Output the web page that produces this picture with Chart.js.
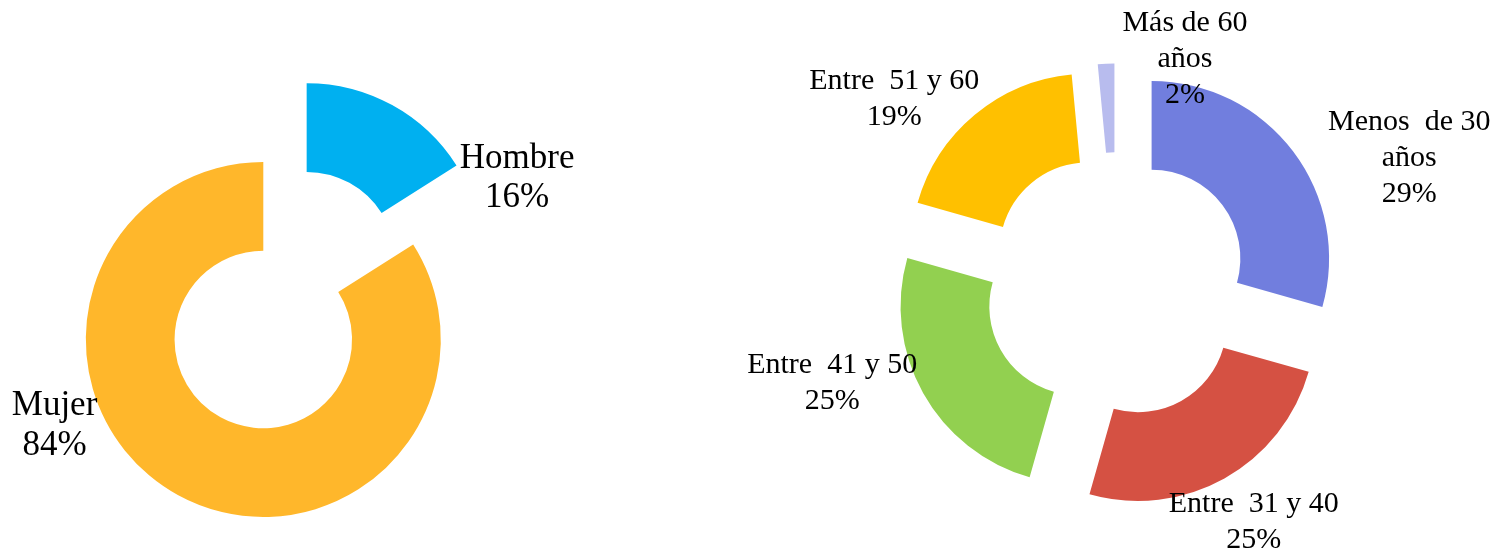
<!DOCTYPE html>
<html lang="es">
<head>
<meta charset="utf-8">
<title>Género y edad</title>
<script src="https://cdn.jsdelivr.net/npm/chart.js@4.4.1/dist/chart.umd.min.js"></script>
<style>
  html, body { margin: 0; padding: 0; background: #fff; }
  #wrap { position: relative; width: 1509px; height: 553px; overflow: hidden; }
  #wrap canvas { position: absolute; left: 0; top: 0; }
</style>
</head>
<body>
<div id="wrap">
  <canvas id="chart-genero" width="1509" height="553"></canvas>
  <canvas id="chart-edad" width="1509" height="553"></canvas>
</div>
<script>
// --- datos ---
const generoLabels = ['Hombre', 'Mujer'];
const generoValues = [16, 84];
const generoColors = ['#00B0F0', '#FFB72B'];

const edadLabels = ['Menos de 30 años', 'Entre 31 y 40', 'Entre 41 y 50', 'Entre 51 y 60', 'Más de 60 años'];
const edadValues = [29.4, 25, 25, 19.1, 1.5];
const edadColors = ['#717EDE', '#D55143', '#92D050', '#FFC000', '#B8BCEE'];

// texto de cada etiqueta, partido en líneas como en el original
const generoLabelLines = [['Hombre'], ['Mujer']];
const edadLabelLines = [['Menos  de 30', 'años'], ['Entre  31 y 40'], ['Entre  41 y 50'], ['Entre  51 y 60'], ['Más de 60', 'años']];

// separación de cada porción (px)
const generoExplode = [90, 0];
const edadExplode = [44, 44, 44, 44, 44];

// posición de etiquetas: [ángulo en grados desde arriba (horario), distancia al centro]
const generoLabelPos = [[57.2, 302], [248.1, 225]];
const edadLabelPos = [[66.2, 320], [149.7, 272], [251.4, 300], [310.2, 291], [16.7, 238]];

// dibuja cada porción desplazada hacia afuera por su ángulo medio
const explodePlugin = {
    id: 'explode',
    beforeDatasetDraw(chart, args, opts) {
        const ctx = chart.ctx;
        args.meta.data.forEach((arc, i) => {
            const mid = (arc.startAngle + arc.endAngle) / 2;
            const d = opts.distances[i] || 0;
            ctx.save();
            ctx.translate(Math.cos(mid) * d, Math.sin(mid) * d);
            arc.draw(ctx);
            ctx.restore();
        });
        return false;
    }
};

// etiquetas con nombre y porcentaje
const labelPlugin = {
    id: 'etiquetas',
    afterDatasetsDraw(chart, args, opts) {
        const ctx = chart.ctx;
        const meta = chart.getDatasetMeta(0);
        const values = chart.data.datasets[0].data;
        const total = values.reduce((a, b) => a + b, 0);
        const lh = opts.lineHeight;
        ctx.save();
        ctx.font = opts.size + 'px "Liberation Serif", "Times New Roman", serif';
        ctx.fillStyle = '#000';
        ctx.textAlign = 'center';
        ctx.textBaseline = 'alphabetic';
        meta.data.forEach((arc, i) => {
            const [ang, dist] = opts.positions[i];
            const a = ang * Math.PI / 180;
            const cx = arc.x + Math.sin(a) * dist;
            const cy = arc.y - Math.cos(a) * dist;
            const lines = opts.lines[i].concat(Math.round(values[i] / total * 100) + '%');
            lines.forEach((t, k) => {
                const y = cy + (k - (lines.length - 1) / 2) * lh + opts.size * 0.33;
                ctx.fillText(t, cx, y);
            });
        });
        ctx.restore();
    }
};

function makeDonut(id, labels, values, colors, padding, explode, lines, positions, size, lineHeight) {
    return new Chart(document.getElementById(id), {
        type: 'doughnut',
        data: {
            labels: labels,
            datasets: [{
                data: values,
                backgroundColor: colors,
                borderWidth: 0
            }]
        },
        options: {
            responsive: false,
            animation: false,
            events: [],
            radius: 177.5,
            cutout: '50%',
            layout: { padding: padding },
            plugins: {
                legend: { display: false },
                tooltip: { enabled: false },
                explode: { distances: explode },
                etiquetas: { lines: lines, positions: positions, size: size, lineHeight: lineHeight }
            }
        },
        plugins: [explodePlugin, labelPlugin]
    });
}

// centro izquierdo ~ (263, 339.5), centro derecho ~ (1116.5, 285)
makeDonut('chart-genero', generoLabels, generoValues, generoColors,
    { left: 0, right: 982.4, top: 126, bottom: 0 },
    generoExplode, generoLabelLines, generoLabelPos, 35, 39.5);

makeDonut('chart-edad', edadLabels, edadValues, edadColors,
    { left: 724, right: 0, top: 17, bottom: 0 },
    edadExplode, edadLabelLines, edadLabelPos, 30, 36);
</script>
</body>
</html>
